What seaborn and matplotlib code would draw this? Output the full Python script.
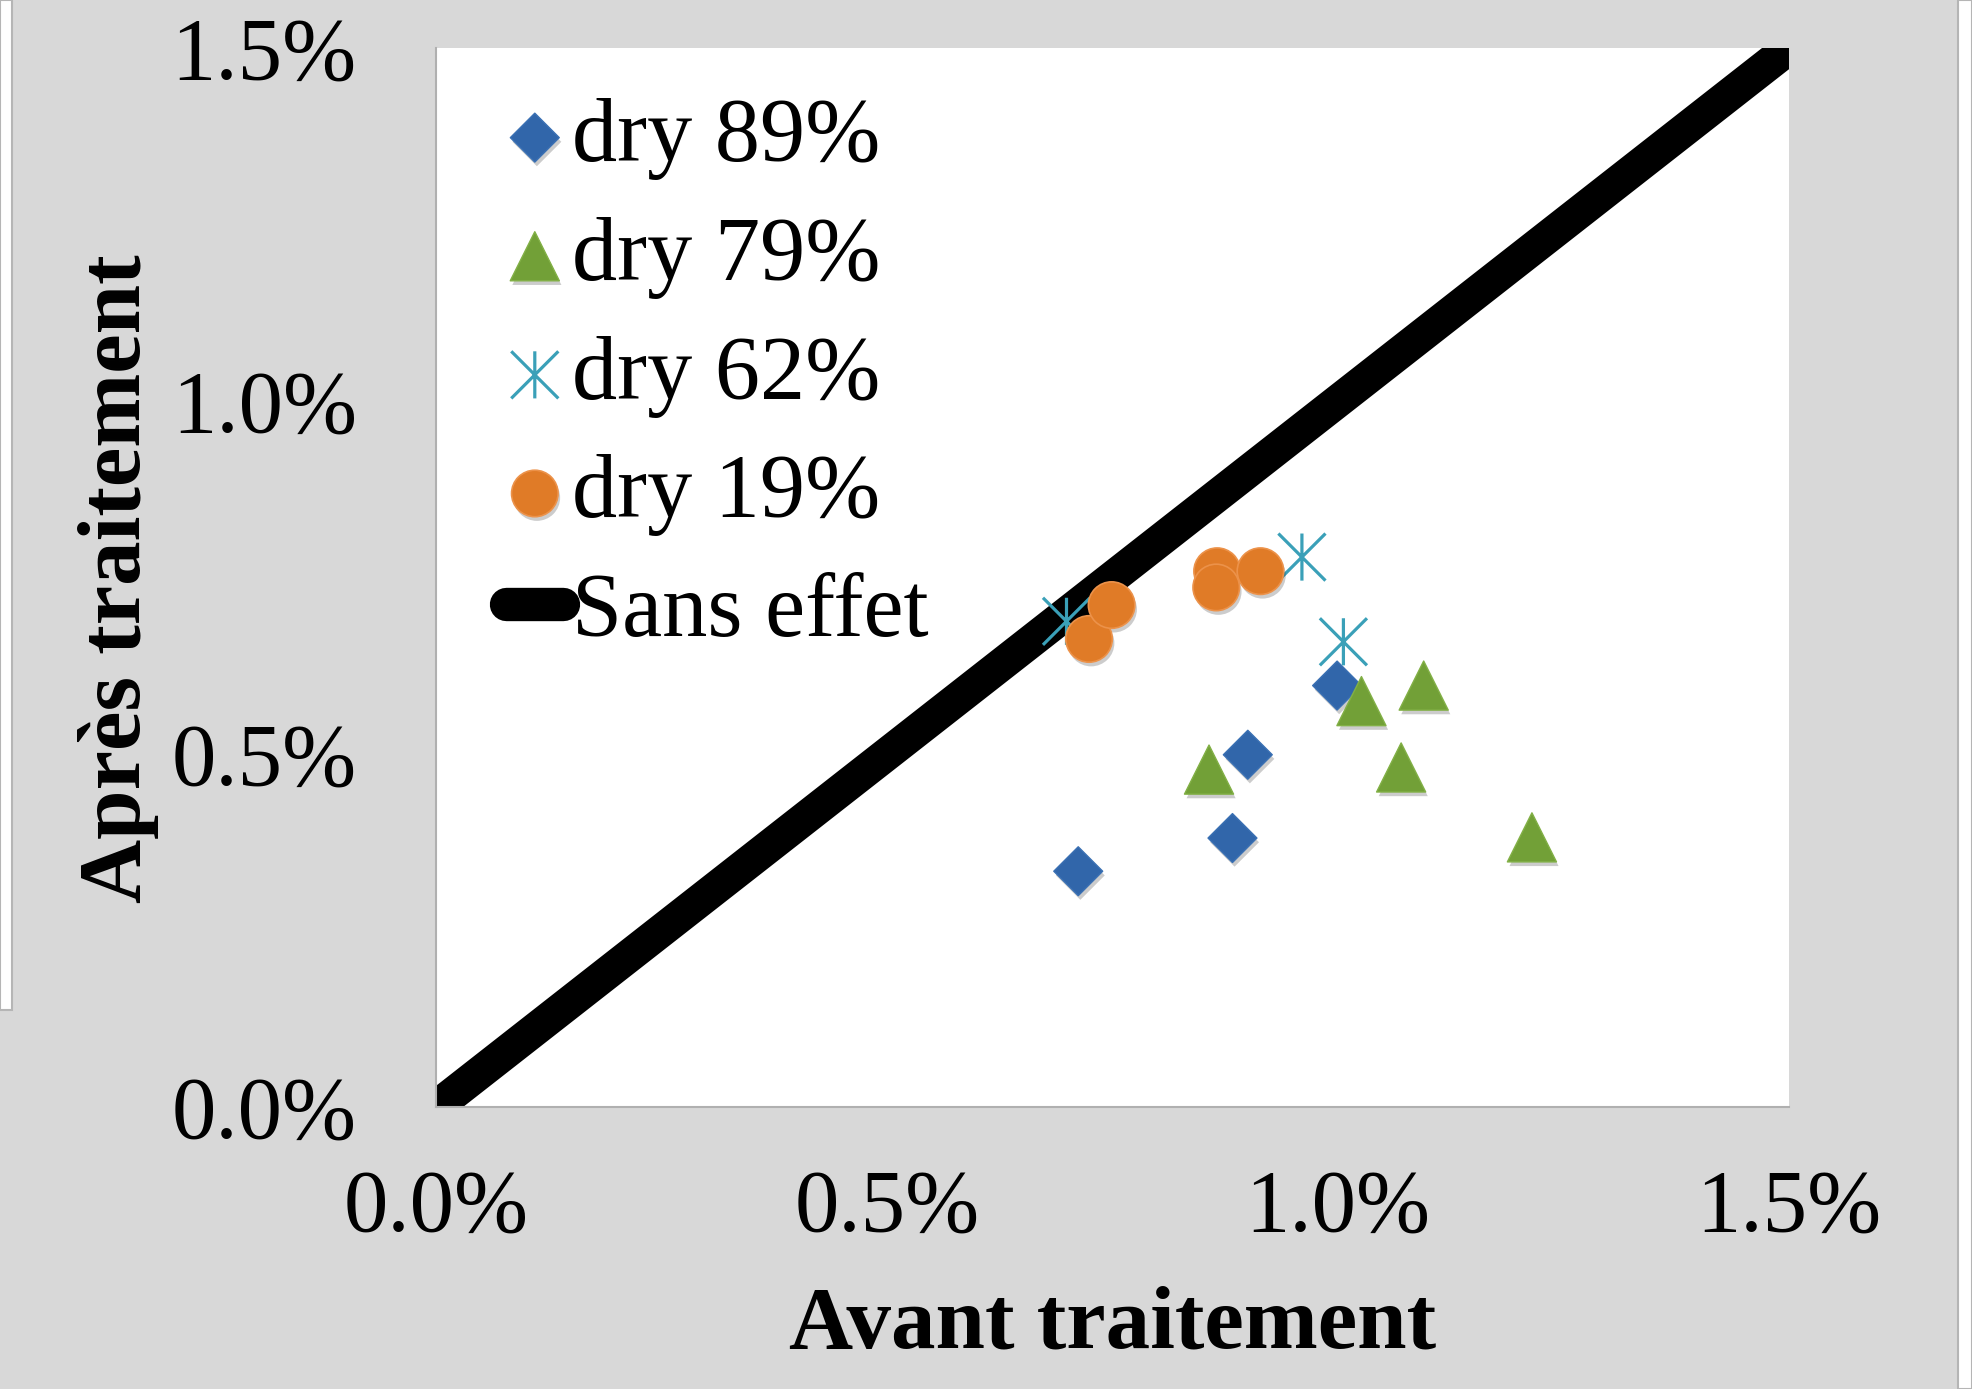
import numpy as np
import pandas as pd
import matplotlib
matplotlib.use("Agg")
import matplotlib.pyplot as plt
import seaborn as sns
from matplotlib.path import Path
from matplotlib.ticker import FixedLocator, FuncFormatter
import matplotlib.patheffects as pe
from matplotlib.patches import Rectangle

# ---------------- data (percent units) ----------------
series_names = ["dry 89%", "dry 79%", "dry 62%", "dry 19%"]
dry89_x = [0.712, 0.883, 0.900, 0.999]
dry89_y = [0.334, 0.381, 0.499, 0.597]
dry79_x = [0.857, 1.026, 1.095, 1.070, 1.215]
dry79_y = [0.478, 0.575, 0.597, 0.481, 0.382]
dry62_x = [0.699, 0.960, 1.006]
dry62_y = [0.688, 0.779, 0.659]
dry19_x = [0.724, 0.749, 0.866, 0.865, 0.914]
dry19_y = [0.663, 0.711, 0.759, 0.736, 0.759]
ref_label = "Sans effet"
ref_x = [0.0, 1.5]
ref_y = [0.0, 1.5]
tick_values = [0.0, 0.5, 1.0, 1.5]
x_title = "Avant traitement"
y_title = "Après traitement"

# ---------------- style ----------------
BG = "#d8d8d8"
sns.set_theme(style="white")
plt.rcParams["font.family"] = ["Liberation Serif", "DejaVu Serif"]
plt.rcParams["text.color"] = "black"
plt.rcParams["axes.labelcolor"] = "black"
plt.rcParams["xtick.color"] = "black"
plt.rcParams["ytick.color"] = "black"

fig = plt.figure(figsize=(19.72, 13.89), dpi=100, facecolor=BG)
ax = fig.add_axes([0.2211, 0.2030, 0.6861, 0.7624])
ax.set_facecolor("white")

# screenshot edges
fig.patches.append(Rectangle((0, 1 - 1010 / 1389), 12 / 1972, 1010 / 1389,
                             transform=fig.transFigure, facecolor="white",
                             edgecolor="#b5b5b5", lw=1.5, zorder=0))
fig.patches.append(Rectangle((1958 / 1972, 0), 14 / 1972, 1,
                             transform=fig.transFigure, facecolor="white",
                             edgecolor="#b5b5b5", lw=1.5, zorder=0))

shadow = [pe.SimplePatchShadow(offset=(1.5, -3), shadow_rgbFace="k", alpha=0.22), pe.Normal()]

asterisk = Path([(0, -1), (0, 1), (-1, -1), (1, 1), (-1, 1), (1, -1)],
                [Path.MOVETO, Path.LINETO] * 3)

sns.lineplot(x=ref_x, y=ref_y, ax=ax, color="black", lw=24,
             solid_capstyle="round", label=ref_label, zorder=1)

sns.scatterplot(x=dry89_x, y=dry89_y, ax=ax, marker="D", s=620,
                color="#3166aa", edgecolor="#3a70b3", linewidth=1,
                label=series_names[0], zorder=3, legend=False)
sns.scatterplot(x=dry79_x, y=dry79_y, ax=ax, marker="^", s=1250,
                color="#72a037", edgecolor="#82b046", linewidth=1,
                label=series_names[1], zorder=4, legend=False)
sns.scatterplot(x=dry62_x, y=dry62_y, ax=ax, marker=asterisk, s=1150,
                facecolor="none", edgecolor="#3aa0b8", color="#3aa0b8",
                linewidth=2.3,
                label=series_names[2], zorder=5, legend=False)
sns.scatterplot(x=dry19_x, y=dry19_y, ax=ax, marker="o", s=1120,
                color="#e07b27", edgecolor="#ec924a", linewidth=1.2,
                label=series_names[3], zorder=6, legend=False)

for coll in ax.collections:
    if coll.get_label() != series_names[2]:
        coll.set_path_effects(shadow)
    else:
        coll.set_edgecolor("#3aa0b8")
        coll.set_facecolor("none")

ax.set_xlim(0, 1.5)
ax.set_ylim(0, 1.5)
ax.xaxis.set_major_locator(FixedLocator(tick_values))
ax.yaxis.set_major_locator(FixedLocator(tick_values))
fmt = FuncFormatter(lambda v, p: f"{v:.1f}%")
ax.xaxis.set_major_formatter(fmt)
ax.yaxis.set_major_formatter(fmt)
ax.tick_params(axis="both", length=0, labelsize=64, colors="black")
ax.tick_params(axis="x", pad=44)
ax.tick_params(axis="y", pad=57)

for side in ["top", "right"]:
    ax.spines[side].set_visible(False)
for side in ["left", "bottom"]:
    ax.spines[side].set_color("#b0b0b0")
    ax.spines[side].set_linewidth(1.5)

ax.set_xlabel(x_title, fontsize=64, fontweight="bold", va="center", color="black")
ax.xaxis.set_label_coords(0.5, -0.207)
ax.set_ylabel(y_title, fontsize=64, fontweight="bold", va="center", color="black")
ax.yaxis.set_label_coords(-0.235, 0.499)

handles, labels = ax.get_legend_handles_labels()
order = [labels.index(n) for n in series_names + [ref_label]]
leg = ax.legend([handles[i] for i in order], [labels[i] for i in order],
                loc="upper left", bbox_to_anchor=(0.052, 0.953), frameon=False,
                fontsize=65, handlelength=0.63, handletextpad=0.1,
                labelspacing=0.40, borderpad=0, borderaxespad=0, markerscale=1)
for t in leg.get_texts():
    t.set_color("black")

fig.savefig("out.png", dpi=100, facecolor=BG)
